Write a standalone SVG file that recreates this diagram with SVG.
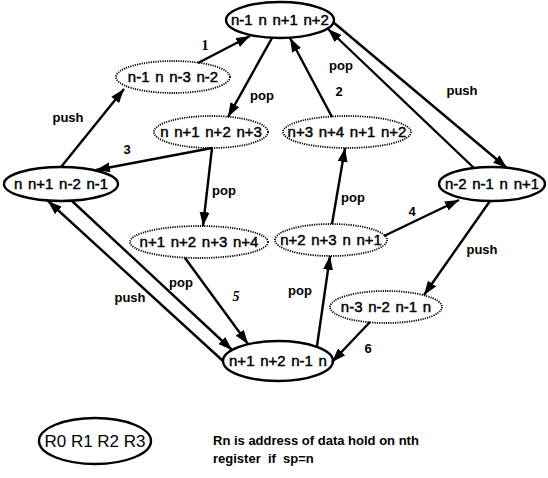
<svg xmlns="http://www.w3.org/2000/svg" width="548" height="478" viewBox="0 0 548 478">
<defs>
<marker id="ah" markerUnits="userSpaceOnUse" markerWidth="16" markerHeight="12" refX="14" refY="5" orient="auto">
<path d="M0,0 L14,5 L0,10 Z" fill="#000"/>
</marker>
</defs>
<style>
.solid{fill:none;stroke:#000;stroke-width:2.4}
.dot{fill:none;stroke:#000;stroke-width:1.8;stroke-dasharray:1.2 1.1}
.nt{font-family:"Liberation Sans",Arial,sans-serif;font-size:15px;text-anchor:middle;fill:#000;stroke:#000;stroke-width:0.45;word-spacing:1.5px}
.lb{font-family:"Liberation Sans",Arial,sans-serif;font-size:13px;font-weight:bold;text-anchor:middle;fill:#000}
.num{font-family:"Liberation Serif","Times New Roman",serif;font-size:14px;font-weight:bold;text-anchor:middle;fill:#000}
.edge{fill:none;stroke:#000;stroke-width:2.4;marker-end:url(#ah)}
.lg{font-family:"Liberation Sans",Arial,sans-serif;font-size:13px;font-weight:bold;fill:#000}
</style>
<rect width="548" height="478" fill="#fff"/>
<g id="connectors">
<path class="edge" d="M198,63 L250,36"/>
<path class="edge" d="M272,38 L228,117"/>
<path class="edge" d="M332,117 L290,38"/>
<path class="edge" d="M474,168 L328,29"/>
<path class="edge" d="M333,22 L507,168"/>
<path class="edge" d="M61,167 L124,89"/>
<path class="edge" d="M212,148 L96,170"/>
<path class="edge" d="M212,148 L203,226"/>
<path class="edge" d="M332,224 L345,148"/>
<path class="edge" d="M384,236 L459,200"/>
<path class="edge" d="M490,201 L424,295"/>
<path class="edge" d="M370,322 L332,362"/>
<path class="edge" d="M317,346 L330,256"/>
<path class="edge" d="M185,258 L248,344"/>
<path class="edge" d="M72,201 L232,350"/>
<path class="edge" d="M223,361 L48,201"/>
<text class="num" x="205" y="50">1</text>
<text class="lb" x="262" y="100">pop</text>
<text class="lb" x="341" y="70">pop</text>
<text class="lb" x="339" y="96">2</text>
<text class="lb" x="462" y="95">push</text>
<text class="lb" x="68" y="122">push</text>
<text class="lb" x="127" y="154">3</text>
<text class="lb" x="224" y="195">pop</text>
<text class="lb" x="353" y="202">pop</text>
<text class="lb" x="412" y="216">4</text>
<text class="lb" x="482" y="254">push</text>
<text class="lb" x="181" y="287">pop</text>
<text class="lb" x="130" y="302">push</text>
<text class="num" x="236" y="301" font-style="italic">5</text>
<text class="lb" x="300" y="295">pop</text>
<text class="lb" x="368" y="353">6</text>
</g>
<g id="nT"><ellipse class="solid" cx="280" cy="20" rx="54" ry="18"/><text class="nt" x="280" y="25">n-1 n n+1 n+2</text></g>
<g id="nA"><ellipse class="dot" cx="173" cy="77" rx="57" ry="16"/><text class="nt" x="173" y="82">n-1 n n-3 n-2</text></g>
<g id="nB"><ellipse class="dot" cx="211" cy="132" rx="57" ry="16"/><text class="nt" x="211" y="137">n n+1 n+2 n+3</text></g>
<g id="nC"><ellipse class="dot" cx="347" cy="132" rx="64" ry="16"/><text class="nt" x="347" y="137">n+3 n+4 n+1 n+2</text></g>
<g id="nL"><ellipse class="solid" cx="61" cy="184" rx="57" ry="17"/><text class="nt" x="61" y="189">n n+1 n-2 n-1</text></g>
<g id="nR"><ellipse class="solid" cx="492" cy="184" rx="53" ry="17"/><text class="nt" x="492" y="189">n-2 n-1 n n+1</text></g>
<g id="nD"><ellipse class="dot" cx="199" cy="242" rx="69" ry="16"/><text class="nt" x="199" y="247">n+1 n+2 n+3 n+4</text></g>
<g id="nE"><ellipse class="dot" cx="331" cy="240" rx="56" ry="16"/><text class="nt" x="331" y="245">n+2 n+3 n n+1</text></g>
<g id="nF"><ellipse class="dot" cx="386" cy="307" rx="56" ry="16"/><text class="nt" x="386" y="312">n-3 n-2 n-1 n</text></g>
<g id="nG"><ellipse class="solid" cx="278" cy="361" rx="55" ry="20"/><text class="nt" x="278" y="366">n+1 n+2 n-1 n</text></g>
<g id="legend"><ellipse class="solid" cx="95" cy="441" rx="56" ry="23"/><text x="95" y="447" font-family="Liberation Sans, Arial, sans-serif" font-size="17" text-anchor="middle">R0 R1 R2 R3</text></g>
<g id="note"><text class="lg" x="213" y="445">Rn is address of data hold on nth</text><text class="lg" x="213" y="463" xml:space="preserve">register  if  sp=n</text></g>
</svg>
